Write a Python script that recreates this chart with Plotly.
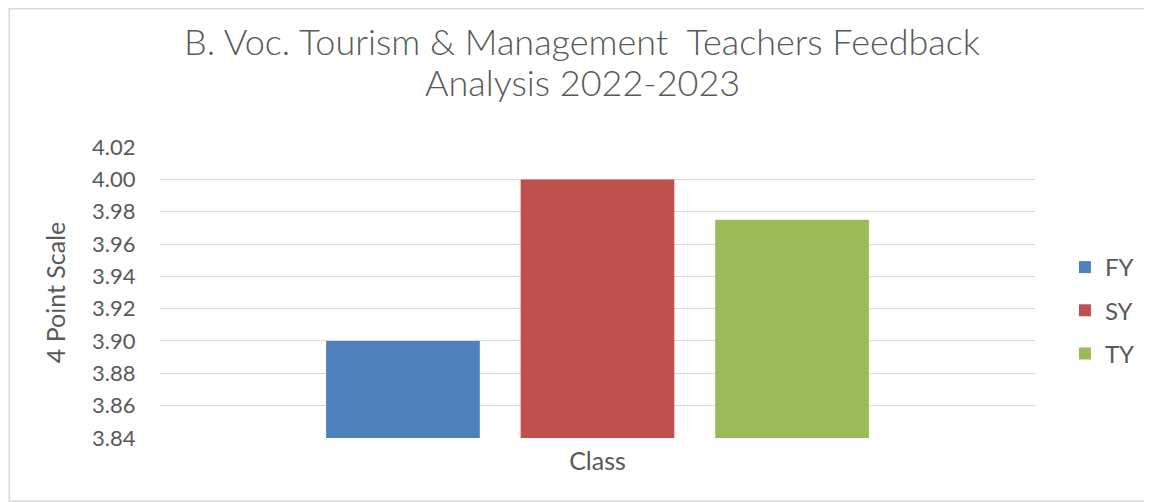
import plotly.graph_objects as go

categories = ["Class"]
series_names = ["FY", "SY", "TY"]
series_values = [[3.90], [4.00], [3.975]]
series_colors = ["#4F81BD", "#C0504D", "#9BBB59"]
y_ticks = [3.84, 3.86, 3.88, 3.90, 3.92, 3.94, 3.96, 3.98, 4.00, 4.02]
title_lines = ["B. Voc. Tourism &amp; Management  Teachers Feedback", "Analysis 2022-2023"]

FONT = "Lato"
GRAY = "#595959"

fig = go.Figure()
for name, vals, col in zip(series_names, series_values, series_colors):
    fig.add_trace(go.Bar(x=categories, y=vals, name=name, marker_color=col,
                         marker_line_width=0, legendgroup=name))

# page has an 8px body margin, so the figure is laid out in shifted coordinates
W, H = 1144, 494
L, R, T, B = 152, 1029, 139, 430
PW, PH = R - L, B - T

def px(x):
    return (x - L) / PW

def py(y):
    return (B - y) / PH

fig.update_layout(
    width=W, height=H,
    margin=dict(l=L, r=W - R, t=T, b=H - B, pad=0),
    paper_bgcolor="white", plot_bgcolor="white",
    font=dict(family=FONT, color=GRAY, size=22),
    barmode="group", bargap=0.333, bargroupgap=0.21,
    showlegend=True,
    legend=dict(x=px(1059), xanchor="left",
                y=py(302.5), yanchor="middle",
                font=dict(family=FONT, size=24, color=GRAY),
                traceorder="grouped", tracegroupgap=9,
                bgcolor="rgba(0,0,0,0)"),
    xaxis=dict(showgrid=False, showline=False, zeroline=False,
               ticks="outside", ticklen=1, tickcolor="rgba(0,0,0,0)",
               tickfont=dict(size=25, color=GRAY)),
    yaxis=dict(range=[3.8399, 4.0201], tickvals=y_ticks,
               ticktext=[f"{v:.2f}" for v in y_ticks],
               showgrid=True, gridcolor="#D9D9D9", gridwidth=1.3,
               zeroline=False, showline=False,
               ticks="outside", ticklen=19, tickcolor="rgba(0,0,0,0)",
               tickfont=dict(size=22, color=GRAY),
               title=dict(text="4 Point Scale", standoff=19,
                          font=dict(size=25, color=GRAY))),
)

# two-line chart title
for text, yc in zip(title_lines, [33, 74]):
    fig.add_annotation(text=text, xref="paper", yref="paper",
                       x=px(575), y=py(yc), xanchor="center", yanchor="middle",
                       showarrow=False,
                       font=dict(family=FONT, size=36, color=GRAY, weight=300))

# chart border
fig.add_shape(type="rect", xref="paper", yref="paper",
              x0=px(0.8), x1=px(1139), y0=py(493), y1=py(0.8),
              line=dict(color="#D9D9D9", width=1.5), fillcolor="rgba(0,0,0,0)",
              layer="below")

fig.write_html("out.html")
